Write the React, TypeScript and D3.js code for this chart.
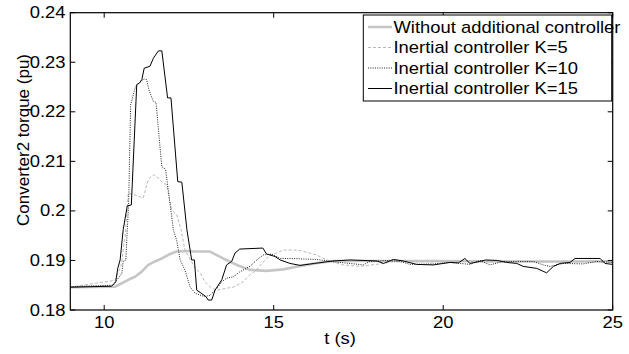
import React from "react";
import * as d3 from "d3";

const xTicks = [10, 15, 20, 25];
const yTicks = [0.18, 0.19, 0.2, 0.21, 0.22, 0.23, 0.24];
const yTickLabels = ["0.18", "0.19", "0.2", "0.21", "0.22", "0.23", "0.24"];
const legendLabels = [
  "Without additional controller",
  "Inertial controller K=5",
  "Inertial controller K=10",
  "Inertial controller K=15",
];

const tNone = [9, 10.32, 10.52, 10.71, 10.91, 11.1, 11.3, 11.5, 11.7, 11.94, 12.14, 12.43, 12.68, 13.12, 13.51, 13.91, 14.3, 14.79, 15.28, 15.78, 16.3, 16.76, 18, 20, 22, 25];
const vNone = [0.1846, 0.1847, 0.1854, 0.1861, 0.1867, 0.1877, 0.1891, 0.1898, 0.1904, 0.1913, 0.1918, 0.1919, 0.1918, 0.1918, 0.1904, 0.1891, 0.1881, 0.1879, 0.1882, 0.1889, 0.1895, 0.1899, 0.1899, 0.1899, 0.1898, 0.1898];

const tK5 = [9, 10.32, 10.5, 10.62, 10.71, 10.91, 11.15, 11.3, 11.45, 11.6, 11.74, 11.84, 11.99, 12.14, 12.27, 12.38, 12.68, 12.83, 12.97, 13.17, 13.32, 13.61, 13.81, 14.1, 14.3, 14.5, 14.65, 14.89, 15.09, 15.28, 15.58, 15.78, 16.27, 16.56, 17.05, 17.55, 18.24, 18.53, 19.5, 20.5, 21.5, 22.5, 23.5, 24.5, 25];
const vK5 = [0.1846, 0.186, 0.189, 0.195, 0.2036, 0.2032, 0.2026, 0.2063, 0.2073, 0.2066, 0.2056, 0.2053, 0.2002, 0.1992, 0.1962, 0.1921, 0.1885, 0.1875, 0.1857, 0.1844, 0.184, 0.1844, 0.1846, 0.1857, 0.1871, 0.1881, 0.1894, 0.1911, 0.1915, 0.1921, 0.1921, 0.192, 0.1911, 0.1901, 0.1891, 0.1888, 0.1894, 0.1898, 0.1897, 0.1898, 0.1897, 0.1898, 0.1897, 0.1899, 0.1898];

const tK10 = [9, 10.27, 10.37, 10.52, 10.56, 10.64, 10.68, 10.72, 10.78, 10.92, 11.06, 11.18, 11.25, 11.32, 11.45, 11.53, 11.6, 11.7, 11.81, 12.04, 12.14, 12.24, 12.38, 12.53, 12.68, 12.83, 12.97, 13.13, 13.32, 13.47, 13.61, 13.81, 14.0, 14.3, 14.5, 14.69, 14.94, 15.19, 15.48, 16.27, 16.8, 17.25, 17.64, 17.84, 18.33, 18.73, 19.02, 19.71, 20.2, 20.79, 21.08, 21.38, 21.77, 22.66, 22.95, 23.15, 23.55, 24.13, 24.53, 25];
const vK10 = [0.1847, 0.185, 0.186, 0.1874, 0.1898, 0.1901, 0.1962, 0.2012, 0.2214, 0.225, 0.2261, 0.2266, 0.2265, 0.2244, 0.2221, 0.2219, 0.2164, 0.2089, 0.2084, 0.1962, 0.194, 0.1901, 0.1881, 0.1847, 0.1834, 0.183, 0.1827, 0.183, 0.1844, 0.1857, 0.1864, 0.1867, 0.1877, 0.1888, 0.1901, 0.1911, 0.1913, 0.1904, 0.1904, 0.1902, 0.1897, 0.1894, 0.1891, 0.1898, 0.19, 0.1898, 0.1892, 0.1893, 0.1896, 0.1892, 0.19, 0.1891, 0.1898, 0.1898, 0.1891, 0.1888, 0.1894, 0.1893, 0.1898, 0.1896];

const tK15 = [9, 10.22, 10.34, 10.4, 10.47, 10.56, 10.68, 10.8, 10.96, 11.04, 11.11, 11.18, 11.35, 11.45, 11.6, 11.7, 11.87, 11.97, 12.17, 12.29, 12.44, 12.58, 12.66, 12.73, 12.86, 13.0, 13.07, 13.17, 13.27, 13.47, 13.61, 13.76, 13.86, 14.0, 14.68, 14.79, 15.04, 15.19, 15.48, 15.78, 16.2, 16.75, 17.25, 18.04, 18.24, 18.53, 18.82, 19.22, 19.71, 20.2, 20.45, 20.64, 20.79, 21.08, 21.25, 21.6, 21.87, 22.17, 22.36, 22.76, 23.05, 23.25, 23.45, 23.74, 23.89, 24.63, 24.77, 25];
const vK15 = [0.1846, 0.1848, 0.1857, 0.1884, 0.1901, 0.1962, 0.201, 0.2012, 0.2255, 0.2258, 0.2265, 0.2288, 0.2292, 0.2308, 0.2323, 0.2323, 0.2228, 0.2228, 0.2059, 0.2058, 0.1962, 0.1901, 0.1901, 0.184, 0.1834, 0.1827, 0.182, 0.182, 0.184, 0.1861, 0.1891, 0.1898, 0.1915, 0.1923, 0.1925, 0.1913, 0.1908, 0.1901, 0.1894, 0.189, 0.1894, 0.1899, 0.1901, 0.1899, 0.1894, 0.1902, 0.1899, 0.1892, 0.1891, 0.1896, 0.1895, 0.1904, 0.1894, 0.1898, 0.1901, 0.19, 0.1896, 0.1894, 0.1888, 0.1884, 0.1875, 0.1888, 0.1894, 0.1896, 0.1904, 0.1904, 0.1894, 0.1892];

const W = 629;
const H = 354;
const L = 70.3, R = 612.7, T = 12.7, B = 310;
const FONT = "'Liberation Sans', Arial, sans-serif";
const SX = 1.15;

const seriesStyles = [
  { stroke: "#c6c6c6", width: 2.6, dash: "" },
  { stroke: "#b8b8b8", width: 1, dash: "3,2" },
  { stroke: "#222", width: 1, dash: "1,1.3" },
  { stroke: "#000", width: 1, dash: "" },
];

function T2({ x, y, anchor, children }: { x: number; y: number; anchor?: string; children: React.ReactNode }) {
  return (
    <text transform={`translate(${x},${y}) scale(${SX},1)`} textAnchor={anchor || "start"} fontSize={16} fill="#000">
      {children}
    </text>
  );
}

export default function App() {
  const x = d3.scaleLinear().domain([9, 25]).range([L, R]);
  const y = d3.scaleLinear().domain([0.18, 0.24]).range([B, T]);
  const line = d3.line<[number, number]>().x((d) => x(d[0])).y((d) => y(d[1]));
  const data = [
    d3.zip(tNone, vNone),
    d3.zip(tK5, vK5),
    d3.zip(tK10, vK10),
    d3.zip(tK15, vK15),
  ] as [number, number][][];

  const lgX = 363.3, lgY = 15, lgW = 248.4, lgH = 86;
  const rowY = [27, 47.5, 68, 88.5];

  return (
    <svg width={W} height={H} style={{ position: "absolute", left: 0, top: 0, background: "#fff" }} fontFamily={FONT}>
      <rect x={0} y={0} width={W} height={H} fill="#fff" />
      <defs>
        <clipPath id="plot">
          <rect x={L} y={T} width={R - L} height={B - T} />
        </clipPath>
      </defs>
      <g clipPath="url(#plot)">
        {data.map((d, i) => (
          <path key={i} d={line(d) || ""} fill="none" stroke={seriesStyles[i].stroke}
            strokeWidth={seriesStyles[i].width} strokeDasharray={seriesStyles[i].dash || undefined}
            strokeLinejoin="round" />
        ))}
      </g>
      <rect x={L} y={T} width={R - L} height={B - T} fill="none" stroke="#000" strokeWidth={1.2} />
      {xTicks.map((t) => (
        <g key={t}>
          <line x1={x(t)} x2={x(t)} y1={B} y2={B - 5} stroke="#000" />
          <line x1={x(t)} x2={x(t)} y1={T} y2={T + 5} stroke="#000" />
          <T2 x={x(t)} y={328} anchor="middle">{t}</T2>
        </g>
      ))}
      {yTicks.map((v, i) => (
        <g key={v}>
          <line x1={L} x2={L + 5} y1={y(v)} y2={y(v)} stroke="#000" />
          <line x1={R} x2={R - 5} y1={y(v)} y2={y(v)} stroke="#000" />
          <T2 x={65.5} y={y(v) + 5.5} anchor="end">{yTickLabels[i]}</T2>
        </g>
      ))}
      <T2 x={340} y={344} anchor="middle">t (s)</T2>
      <text transform={`translate(29,140) rotate(-90)`} textAnchor="middle" fontSize={17} fill="#000">Converter2 torque (pu)</text>
      <rect x={lgX} y={lgY} width={lgW} height={lgH} fill="#fff" stroke="#000" strokeWidth={1} />
      {legendLabels.map((lab, i) => (
        <g key={lab}>
          <line x1={368} x2={392} y1={rowY[i]} y2={rowY[i]} stroke={seriesStyles[i].stroke}
            strokeWidth={seriesStyles[i].width} strokeDasharray={seriesStyles[i].dash || undefined} />
          <T2 x={393.5} y={rowY[i] + 5.5}>{lab}</T2>
        </g>
      ))}
    </svg>
  );
}
